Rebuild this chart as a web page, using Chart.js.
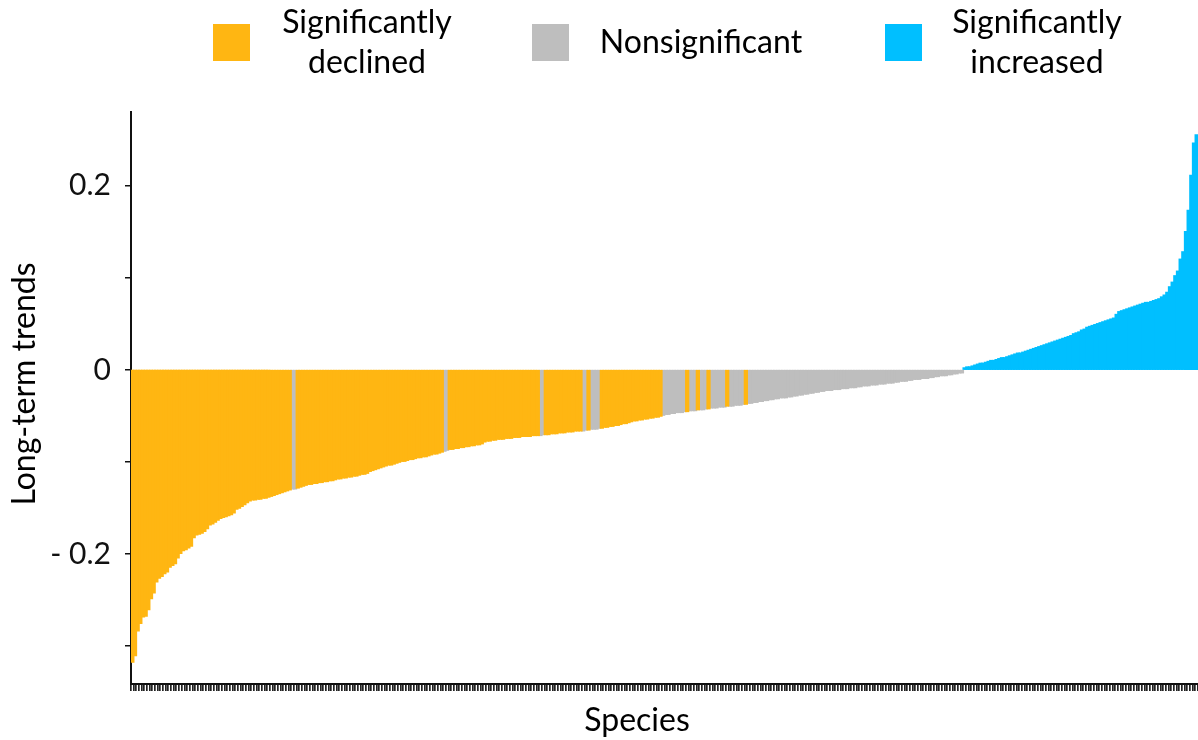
<!DOCTYPE html>
<html>
<head>
<meta charset="utf-8">
<script src="https://cdn.jsdelivr.net/npm/chart.js@4.4.1/dist/chart.umd.min.js"></script>
<style>
  html, body { margin: 0; padding: 0; background: #ffffff; }
  #wrap { position: relative; width: 1198px; height: 740px; }
</style>
</head>
<body>
<div id="wrap"><canvas id="trendChart" width="1198" height="740"></canvas></div>
<script>
// Long-term trend of each species, sorted from strongest decline to strongest increase
const trends = [
  -0.317,-0.310,-0.283,-0.275,-0.268,-0.267,-0.260,-0.248,-0.242,-0.230,
  -0.226,-0.224,-0.221,-0.219,-0.214,-0.212,-0.210,-0.204,-0.199,-0.196,
  -0.195,-0.193,-0.191,-0.182,-0.179,-0.178,-0.177,-0.175,-0.172,-0.168,
  -0.167,-0.165,-0.163,-0.161,-0.160,-0.159,-0.158,-0.157,-0.155,-0.151,
  -0.150,-0.148,-0.146,-0.144,-0.142,-0.141,-0.141,-0.140,-0.140,-0.139,
  -0.139,-0.138,-0.137,-0.136,-0.135,-0.134,-0.133,-0.132,-0.131,-0.130,
  -0.129,-0.129,-0.128,-0.127,-0.126,-0.125,-0.124,-0.124,-0.123,-0.123,
  -0.122,-0.122,-0.121,-0.121,-0.120,-0.120,-0.119,-0.118,-0.118,-0.117,
  -0.117,-0.116,-0.116,-0.115,-0.115,-0.114,-0.113,-0.113,-0.112,-0.110,
  -0.109,-0.108,-0.107,-0.106,-0.105,-0.104,-0.103,-0.103,-0.102,-0.101,
  -0.100,-0.099,-0.099,-0.098,-0.097,-0.097,-0.096,-0.095,-0.095,-0.094,
  -0.094,-0.093,-0.092,-0.091,-0.091,-0.090,-0.089,-0.088,-0.087,-0.086,
  -0.086,-0.085,-0.085,-0.084,-0.084,-0.083,-0.083,-0.082,-0.082,-0.081,
  -0.081,-0.080,-0.078,-0.077,-0.077,-0.076,-0.076,-0.075,-0.075,-0.075,
  -0.074,-0.074,-0.074,-0.073,-0.073,-0.073,-0.072,-0.072,-0.072,-0.072,
  -0.071,-0.071,-0.071,-0.071,-0.070,-0.070,-0.070,-0.069,-0.069,-0.069,
  -0.068,-0.068,-0.068,-0.067,-0.067,-0.067,-0.066,-0.066,-0.066,-0.066,
  -0.065,-0.065,-0.064,-0.064,-0.064,-0.063,-0.063,-0.062,-0.062,-0.061,
  -0.061,-0.060,-0.060,-0.059,-0.058,-0.058,-0.057,-0.056,-0.055,-0.055,
  -0.054,-0.054,-0.053,-0.053,-0.052,-0.052,-0.051,-0.051,-0.050,-0.049,
  -0.048,-0.048,-0.047,-0.047,-0.046,-0.046,-0.046,-0.045,-0.045,-0.044,
  -0.044,-0.044,-0.043,-0.043,-0.043,-0.042,-0.042,-0.041,-0.041,-0.041,
  -0.040,-0.040,-0.040,-0.039,-0.039,-0.039,-0.038,-0.038,-0.038,-0.037,
  -0.037,-0.036,-0.036,-0.035,-0.035,-0.034,-0.034,-0.033,-0.033,-0.032,
  -0.032,-0.031,-0.031,-0.030,-0.030,-0.030,-0.029,-0.029,-0.028,-0.028,
  -0.027,-0.027,-0.026,-0.026,-0.025,-0.025,-0.024,-0.024,-0.023,-0.023,
  -0.022,-0.022,-0.022,-0.021,-0.021,-0.021,-0.020,-0.020,-0.020,-0.019,
  -0.019,-0.019,-0.018,-0.018,-0.017,-0.017,-0.017,-0.016,-0.016,-0.016,
  -0.015,-0.015,-0.015,-0.014,-0.014,-0.014,-0.013,-0.013,-0.012,-0.012,
  -0.012,-0.011,-0.011,-0.010,-0.010,-0.010,-0.009,-0.009,-0.009,-0.008,
  -0.008,-0.007,-0.007,-0.006,-0.006,-0.006,-0.005,-0.005,-0.004,-0.004,
  -0.003,-0.003, 0.002, 0.003, 0.003, 0.004, 0.005, 0.006, 0.007, 0.007,
   0.008, 0.009, 0.010, 0.010, 0.011, 0.012, 0.013, 0.013, 0.014, 0.015,
   0.016, 0.017, 0.018, 0.018, 0.019, 0.020, 0.021, 0.022, 0.023, 0.024,
   0.025, 0.026, 0.027, 0.028, 0.029, 0.030, 0.031, 0.032, 0.033, 0.034,
   0.035, 0.036, 0.037, 0.039, 0.040, 0.041, 0.043, 0.044, 0.046, 0.047,
   0.048, 0.049, 0.050, 0.051, 0.052, 0.053, 0.054, 0.055, 0.056, 0.060,
   0.063, 0.064, 0.065, 0.066, 0.067, 0.068, 0.069, 0.070, 0.071, 0.072,
   0.073, 0.073, 0.074, 0.075, 0.076, 0.077, 0.079, 0.081, 0.084, 0.090,
   0.095, 0.102, 0.107, 0.120, 0.128, 0.150, 0.173, 0.211, 0.246, 0.255
];

// Significance of each trend, same order: D = declined, N = nonsignificant, I = increased
const significance = (
  'DDDDDDDDDD DDDDDDDDDD DDDDDDDDDD DDDDDDDDDD DDDDDDDDDD ' +
  'DDDDDDDDDD NNDDDDDDDD DDDDDDDDDD DDDDDDDDDD DDDDDDDDDD ' +
  'DDDDDDDDDD DDDDDDDNND DDDDDDDDDD DDDDDDDDDD DDDDDDDDDD ' +
  'DDDNNDDDDD DDDDDDDDDN NDNNNNDDDD DDDDDDDDDD DDDDDDDDDN ' +
  'NNNNNNNNDN NNDNNNDNNN NNNDNNNNNN DNNNNNNNNN NNNNNNNNNN ' +
  'NNNNNNNNNN NNNNNNNNNN NNNNNNNNNN NNNNNNNNNN NNNNNNNNNN ' +
  'NNNNNNNNNN NNIIIIIIII IIIIIIIIII IIIIIIIIII IIIIIIIIII ' +
  'IIIIIIIIII IIIIIIIIII IIIIIIIIII IIIIIIIIII IIIIIIIIII'
).replace(/\s+/g, '').split('');

const species = trends.map((_, i) => 'Species ' + (i + 1));

const groupKeys   = ['D', 'N', 'I'];
const groupLabels = [['Significantly', 'declined'], ['Nonsignificant'], ['Significantly', 'increased']];
const groupColors = ['#FFB612', '#BEBEBE', '#00BFFF'];

const yTickValues = [-0.3, -0.2, -0.1, 0, 0.1, 0.2];
const yTickLabels = ['', '- 0.2', '', '0', '', '0.2'];
const yAxisTitle = 'Long-term trends';
const xAxisTitle = 'Species';

const FONT = 'Lato, "Open Sans", sans-serif';

// Legend blocks and axis titles sit outside the plot area
const legendBoxLeft = [213, 532, 885];
const legendTextCenter = [367, 701, 1037];
const legendBox = 37;
const legendTop = 24;

const datasets = groupKeys.map((key, k) => ({
  label: groupLabels[k].join(' '),
  data: trends.map((v, i) => (significance[i] === key ? v : null)),
  backgroundColor: groupColors[k],
  borderWidth: 0,
  inflateAmount: 0.8,
  barPercentage: 1,
  categoryPercentage: 1
}));

const decorations = {
  id: 'decorations',
  afterDraw(chart) {
    const ctx = chart.ctx;
    ctx.save();
    ctx.fillStyle = '#000';
    ctx.textAlign = 'center';
    ctx.textBaseline = 'middle';
    ctx.font = '32px ' + FONT;
    groupKeys.forEach((_, k) => {
      ctx.fillStyle = groupColors[k];
      ctx.fillRect(legendBoxLeft[k], legendTop, legendBox, legendBox);
      ctx.fillStyle = '#000';
      const lines = groupLabels[k];
      const mid = legendTop + legendBox / 2;
      lines.forEach((line, j) => {
        const y = lines.length === 1 ? mid : mid + (j - 0.5) * 40;
        ctx.fillText(line, legendTextCenter[k], y);
      });
    });
    ctx.font = '32px ' + FONT;
    ctx.fillText(xAxisTitle, 637, 721);
    ctx.translate(25, 384);
    ctx.rotate(-Math.PI / 2);
    ctx.fillText(yAxisTitle, 0, 0);
    ctx.restore();
  }
};

new Chart(document.getElementById('trendChart'), {
  type: 'bar',
  data: { labels: species, datasets },
  plugins: [decorations],
  options: {
    responsive: false,
    animation: false,
    devicePixelRatio: 1,
    layout: { padding: { top: 112, right: 0, left: 0, bottom: 0 } },
    plugins: { legend: { display: false }, tooltip: { enabled: false } },
    scales: {
      x: {
        stacked: true,
        offset: true,
        afterFit: s => { s.height = 56; },
        border: { display: true, color: '#111', width: 2 },
        grid: { display: true, drawOnChartArea: false, drawTicks: true, tickLength: 7, color: '#222', lineWidth: 1.7 },
        ticks: { display: false }
      },
      y: {
        stacked: true,
        min: -0.341,
        max: 0.28,
        afterFit: s => { s.width = 131; },
        afterBuildTicks: s => { s.ticks = yTickValues.map(v => ({ value: v })); },
        border: { display: true, color: '#111', width: 2 },
        grid: { display: true, drawOnChartArea: false, drawTicks: true, tickLength: 6, color: '#111', lineWidth: 1.5 },
        ticks: {
          color: '#111',
          padding: 14,
          font: { family: FONT, size: 30 },
          callback: (value) => {
            const k = yTickValues.findIndex(t => Math.abs(t - value) < 1e-9);
            return k >= 0 ? yTickLabels[k] : '';
          }
        }
      }
    }
  }
});
</script>
</body>
</html>
